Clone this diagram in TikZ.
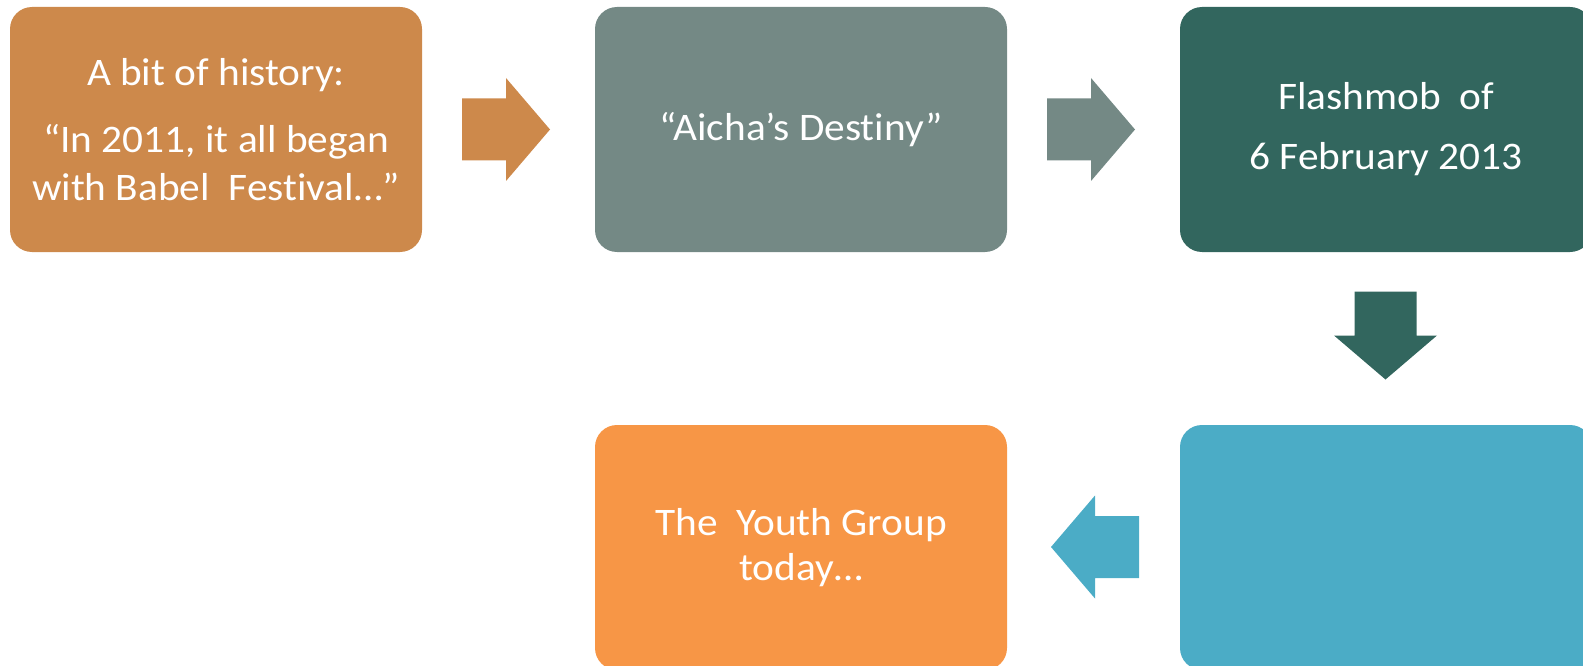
\documentclass[tikz,border=0pt]{standalone}
\usepackage{fontspec}
\setmainfont[Ligatures=NoCommon, FakeStretch=1.06]{Carlito}
\definecolor{cA}{HTML}{CD894B}
\definecolor{cB}{HTML}{748985}
\definecolor{cC}{HTML}{32665E}
\definecolor{cD}{HTML}{4BACC6}
\definecolor{cE}{HTML}{F79646}
\begin{document}
\begin{tikzpicture}[x=1pt,y=-1pt,
  box/.style={rectangle, rounded corners=22pt, minimum width=412pt, minimum height=245pt,
    inner sep=0pt, text=white, align=center, font=\fontsize{39}{48}\selectfont},
  blockarrow/.pic={\fill[pic actions] (-44,-31) -- (0,-31) -- (0,-51.5) -- (44,0) -- (0,51.5) -- (0,31) -- (-44,31) -- cycle;}]
\useasboundingbox (0,0) rectangle (1583,666);
\clip (0,0) rectangle (1583,666);
\node[box, fill=cA] (b1) at (216,129.5) {A bit of history:\\[19pt]“In 2011, it all began\\with Babel~~Festival…”};
\node[box, fill=cB] (b2) at (801,129.5) {“Aicha’s Destiny”};
\node[box, fill=cC] (b3) at (1386,129.5) {Flashmob~~of\\[12pt]6 February 2013};
\node[box, fill=cD] (b4) at (1386,547.5) {};
\node[box, fill=cE] (b5) at (801,547.5) {The~~Youth Group\\[-3pt]today…};
\pic[fill=cA] at (506,129.5) {blockarrow};
\pic[fill=cB] at (1091,129.5) {blockarrow};
\pic[fill=cC, rotate=-90] at (1385.5,335.5) {blockarrow};
\pic[fill=cD, rotate=180] at (1095,547) {blockarrow};
\end{tikzpicture}
\end{document}
